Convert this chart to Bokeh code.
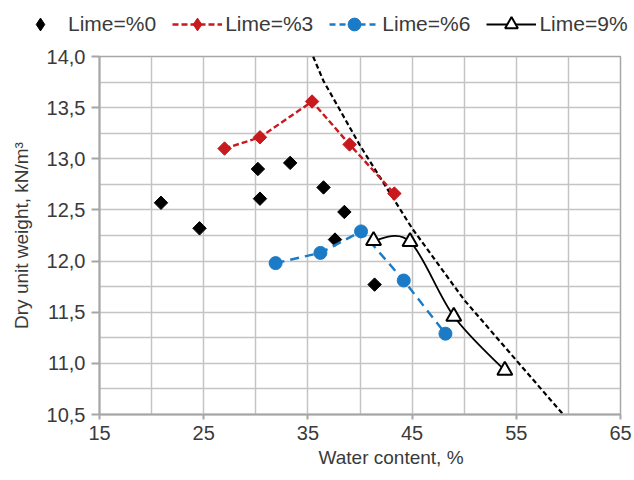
import numpy as np
from bokeh.plotting import figure
from bokeh.layouts import column
from bokeh.models import (Legend, LegendItem, FixedTicker, Title,
                          CustomJSTickFormatter, Range1d)
from bokeh.embed import file_html
from bokeh.resources import INLINE

# Compaction results: water content (%) vs dry unit weight (kN/m3)
w_lime0 = [20.9, 24.6, 30.2, 30.4, 33.3, 36.5, 38.5, 37.6, 41.4]
g_lime0 = [12.57, 12.32, 12.90, 12.61, 12.96, 12.72, 12.48, 12.21, 11.77]

w_lime3 = [27.0, 30.4, 35.4, 39.0, 43.3]
g_lime3 = [13.10, 13.21, 13.56, 13.14, 12.66]

w_lime6 = [31.9, 36.2, 40.1, 44.2, 48.2]
g_lime6 = [11.98, 12.08, 12.29, 11.81, 11.29]

w_lime9 = [41.3, 44.8, 49.0, 53.9]
g_lime9 = [12.20, 12.19, 11.46, 10.93]

# zero air voids line
w_zav = [35.5, 36.5, 40.0, 45.0, 50.0, 55.0, 59.5]
g_zav = [14.0, 13.76, 13.13, 12.32, 11.62, 11.03, 10.5]

x_ticks = [15, 25, 35, 45, 55, 65]
y_ticks = [10.5, 11.0, 11.5, 12.0, 12.5, 13.0, 13.5, 14.0]

FONT = "Liberation Sans"
GRID = "#C4C4C4"
AXIS = "#A6A6A6"
TXT = "#3A3A3A"
RED = "#C8191E"
BLUE = "#1B7BC6"

# ---- main chart -----------------------------------------------------------
p = figure(width=634, height=440, output_backend="svg", toolbar_location=None,
           x_range=Range1d(15, 65), y_range=Range1d(10.5, 14.0),
           min_border_left=99, min_border_right=14, min_border_top=16,
           min_border_bottom=66)
p.frame_align = False
p.background_fill_color = "white"
p.border_fill_color = "white"
p.outline_line_color = AXIS
p.outline_line_width = 1.5

# grid every 5 % / 0.25 kN/m3
p.xgrid.ticker = FixedTicker(ticks=list(np.arange(15, 66, 5)))
p.ygrid.ticker = FixedTicker(ticks=list(np.arange(10.5, 14.01, 0.25)))
for g in (p.xgrid, p.ygrid):
    g.grid_line_color = GRID
    g.grid_line_width = 1.5

p.xaxis.ticker = FixedTicker(ticks=x_ticks)
p.yaxis.ticker = FixedTicker(ticks=y_ticks)
p.yaxis.formatter = CustomJSTickFormatter(code="return tick.toFixed(1).replace('.', ',');")

for ax in (p.xaxis, p.yaxis):
    ax.axis_line_color = AXIS
    ax.axis_line_width = 2
    ax.major_tick_line_color = AXIS
    ax.major_tick_line_width = 2
    ax.major_tick_in = 0
    ax.minor_tick_line_color = None
    ax.major_label_text_font = FONT
    ax.major_label_text_font_size = "20px"
    ax.major_label_text_color = TXT
    ax.axis_label_text_font = FONT
    ax.axis_label_text_font_style = "normal"
    ax.axis_label_text_color = TXT

p.xaxis.major_tick_out = 5
p.xaxis.major_label_standoff = 6
p.yaxis.major_tick_out = 8
p.yaxis.major_label_standoff = 6
p.yaxis.axis_label = "Dry unit weight, kN/m³"
p.yaxis.axis_label_text_font_size = "19px"
p.yaxis.axis_label_standoff = 12

# x axis title, set a little right of the frame centre
p.add_layout(Title(text="Water content, %", align="left", offset=219,
                   text_font=FONT, text_font_size="19px", text_color=TXT,
                   text_font_style="normal", standoff=4), "below")

# zero air voids
p.line(w_zav, g_zav, line_color="black", line_width=2.2, line_dash="5 3")

# Lime = 0 %
p.scatter(w_lime0, g_lime0, marker="square", angle=np.pi / 4, size=9.5,
          fill_color="black", line_color="black")

# Lime = 3 %
p.line(w_lime3, g_lime3, line_color=RED, line_width=2.4, line_dash="6 3")
p.scatter(w_lime3, g_lime3, marker="square", angle=np.pi / 4, size=9.5,
          fill_color=RED, line_color=RED)

# Lime = 6 %
p.line(w_lime6, g_lime6, line_color=BLUE, line_width=2.4, line_dash="9 6")
p.scatter(w_lime6, g_lime6, marker="circle", size=13,
          fill_color=BLUE, line_color=BLUE)

# Lime = 9 %: smoothed curve through the points (cubic Bezier segments)
xs = np.array(w_lime9, dtype=float)
ys = np.array(g_lime9, dtype=float)
n = len(xs)
x0, y0, x1, y1, cx0, cy0, cx1, cy1 = ([] for _ in range(8))
for i in range(n - 1):
    ip = max(i - 1, 0)
    inn = min(i + 2, n - 1)
    x0.append(xs[i]); y0.append(ys[i])
    x1.append(xs[i + 1]); y1.append(ys[i + 1])
    cx0.append(xs[i] + (xs[i + 1] - xs[ip]) / 6)
    cy0.append(ys[i] + (ys[i + 1] - ys[ip]) / 6)
    cx1.append(xs[i + 1] - (xs[inn] - xs[i]) / 6)
    cy1.append(ys[i + 1] - (ys[inn] - ys[i]) / 6)
p.bezier(x0=x0, y0=y0, x1=x1, y1=y1, cx0=cx0, cy0=cy0, cx1=cx1, cy1=cy1,
         line_color="black", line_width=1.8)
p.scatter(w_lime9, g_lime9, marker="triangle", size=15,
          fill_color="white", line_color="black", line_width=2)

# ---- legend strip above the chart -----------------------------------------
lg = figure(width=634, height=40, output_backend="svg", toolbar_location=None,
            x_range=Range1d(0, 1), y_range=Range1d(0, 1),
            x_axis_type=None, y_axis_type=None,
            min_border=0, min_border_left=0, min_border_right=0,
            min_border_top=0, min_border_bottom=0)
lg.frame_align = False
lg.grid.visible = False
lg.outline_line_color = None
lg.background_fill_color = "white"
lg.border_fill_color = "white"

# swatch renderers kept outside the strip's visible range
def off():
    return dict(x=[-5, -4], y=[-5, -4])

k0 = lg.scatter(x="x", y="y", source=off(), marker="diamond", size=15,
                fill_color="black", line_color="black")
k3l = lg.line(x="x", y="y", source=off(), line_color=RED, line_width=2.4,
              line_dash="6 3")
k3m = lg.scatter(x="x", y="y", source=off(), marker="diamond", size=14,
                 fill_color=RED, line_color=RED)
k6l = lg.line(x="x", y="y", source=off(), line_color=BLUE, line_width=2.4,
              line_dash="6 4")
k6m = lg.scatter(x="x", y="y", source=off(), marker="circle", size=13,
                 fill_color=BLUE, line_color=BLUE)
k9l = lg.line(x="x", y="y", source=off(), line_color="black", line_width=1.8)
k9m = lg.scatter(x="x", y="y", source=off(), marker="triangle", size=15,
                 fill_color="white", line_color="black", line_width=2)

legend = Legend(items=[
    LegendItem(label="Lime=%0", renderers=[k0]),
    LegendItem(label="Lime=%3", renderers=[k3l, k3m]),
    LegendItem(label="Lime=%6", renderers=[k6l, k6m]),
    LegendItem(label="Lime=9%", renderers=[k9l, k9m]),
], orientation="horizontal", location=(15, 0))
legend.label_text_font = FONT
legend.label_text_font_size = "21px"
legend.label_text_color = TXT
legend.glyph_width = 50
legend.glyph_height = 32
legend.label_height = 32
legend.label_standoff = 3
legend.spacing = 16
legend.padding = 0
legend.margin = 0
legend.border_line_color = None
legend.background_fill_alpha = 0
lg.add_layout(legend, "center")

page = column(lg, p, spacing=0)
open("out.html", "w").write(file_html(page, INLINE))
